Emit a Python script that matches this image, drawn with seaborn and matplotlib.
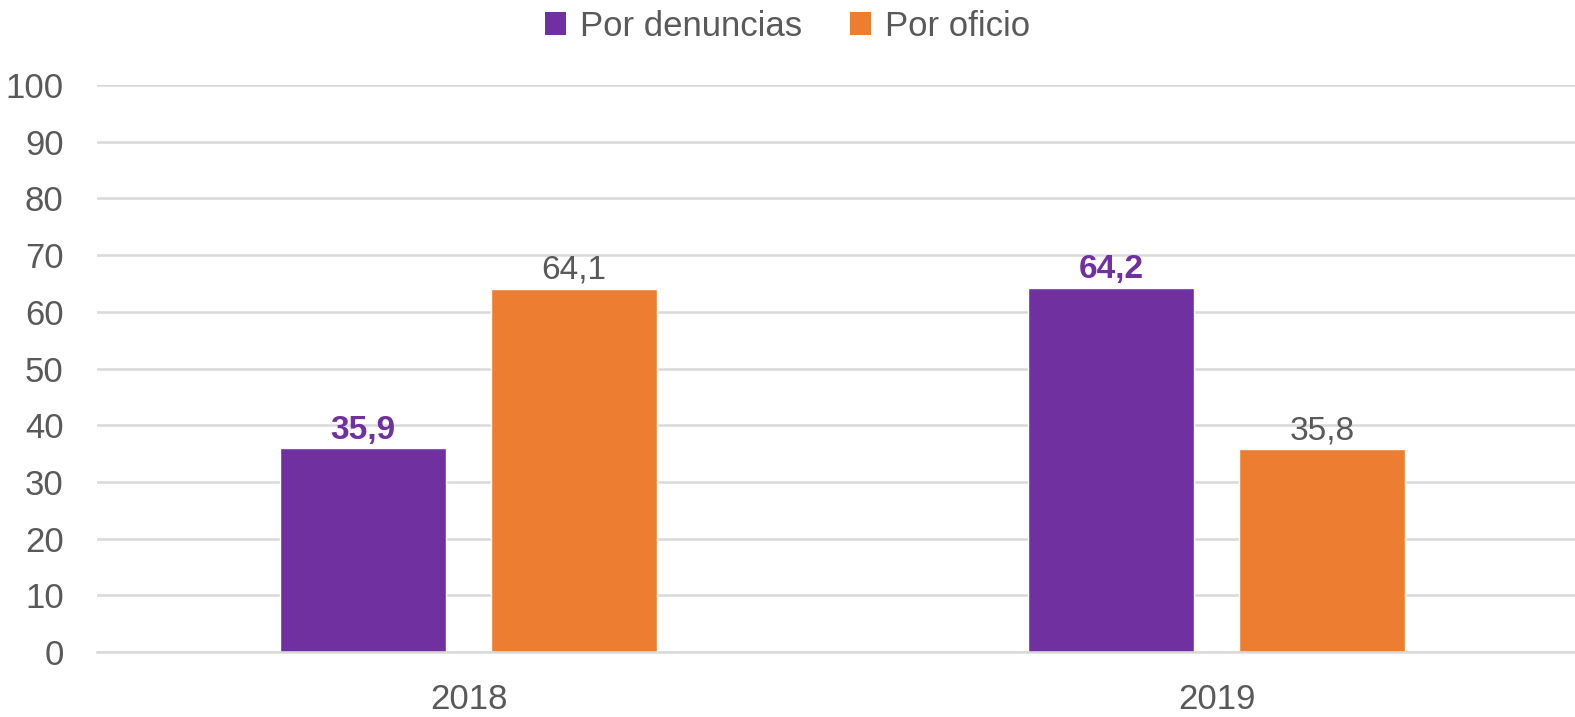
import pandas as pd
import matplotlib
matplotlib.use("Agg")
import matplotlib.pyplot as plt
import seaborn as sns
from matplotlib.patches import Patch

# data
years = ["2018", "2019"]
series = ["Por denuncias", "Por oficio"]
denuncias = [35.9, 64.2]
oficio = [64.1, 35.8]
colors = ["#7030A0", "#ED7D31"]

df = pd.DataFrame({
    "year": years * 2,
    "tipo": [series[0]] * 2 + [series[1]] * 2,
    "valor": denuncias + oficio,
})

sns.set_style("white")
plt.rcParams["font.family"] = ["Liberation Sans", "DejaVu Sans"]
text_color = "#595959"
grid_color = "#D9D9D9"

fig = plt.figure(figsize=(15.75, 7.17), dpi=100)
ax = fig.add_axes([97 / 1575, 1 - 652 / 717, (1575 - 97) / 1575, (652 - 85) / 717])

sns.barplot(data=df, x="year", y="valor", hue="tipo", hue_order=series,
            palette=colors, width=0.564, gap=0.211, ax=ax, legend=False,
            saturation=1)

ax.set_ylim(0, 100)
# the category axis runs a bit past the right edge of the picture
ax.set_xlim(-(468.5 - 97) / 748, (1575 - 468.5) / 748)
ax.set_yticks(range(0, 101, 10))
ax.yaxis.grid(True, color=grid_color, linewidth=1.8)
ax.set_axisbelow(True)
for s in ax.spines.values():
    s.set_visible(False)
ax.spines["bottom"].set_visible(True)
ax.spines["bottom"].set_color(grid_color)
ax.spines["bottom"].set_linewidth(1.8)
ax.tick_params(axis="both", length=0, labelsize=25, colors=text_color)
ax.tick_params(axis="y", pad=24)
ax.tick_params(axis="x", pad=22)
ax.set_xlabel("")
ax.set_ylabel("")

# value labels
for cont, col in zip(ax.containers, series):
    labels = [f"{v:.1f}".replace(".", ",") for v in cont.datavalues]
    if col == series[0]:
        ax.bar_label(cont, labels=labels, padding=2, fontsize=24,
                     fontweight="bold", color=colors[0])
    else:
        ax.bar_label(cont, labels=labels, padding=2, fontsize=24, color=text_color)

handles = [Patch(facecolor=c, edgecolor="none") for c in colors]
fig.legend(handles, series, loc="upper center", bbox_to_anchor=(0.5, 1.03), ncol=2,
           frameon=False, fontsize=25, labelcolor=text_color, handlelength=0.6,
           handleheight=0.6, handletextpad=0.4, columnspacing=1.4)

fig.savefig("out.png", dpi=100)
